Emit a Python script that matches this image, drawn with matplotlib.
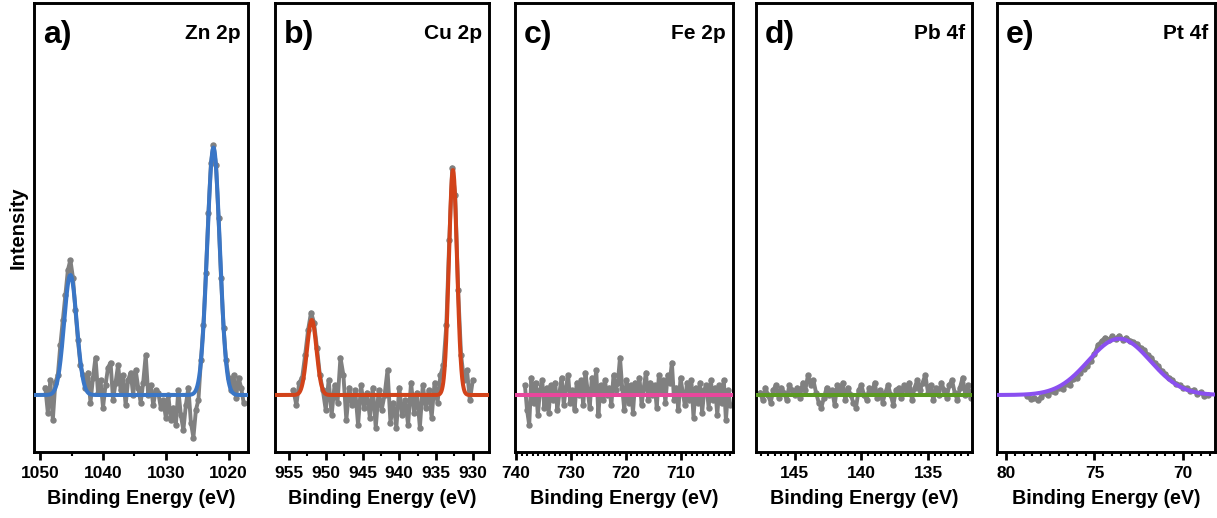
import numpy as np
import matplotlib
matplotlib.use("Agg")
import matplotlib.pyplot as plt
from matplotlib.ticker import MultipleLocator

plt.rcParams['font.family'] = ['Liberation Sans', 'DejaVu Sans']
plt.rcParams['font.weight'] = 'bold'

# ---- panel layout data -------------------------------------------------
panel_tags = ['a)', 'b)', 'c)', 'd)', 'e)']
core_levels = ['Zn 2p', 'Cu 2p', 'Fe 2p', 'Pb 4f', 'Pt 4f']
fit_colors = ['#3a76c6', '#d2431a', '#e8479c', '#5b9a22', '#8a4ff0']
x_limits = [(1051.0, 1016.9), (956.9, 927.8), (740.2, 700.5), (147.9, 131.7), (80.5, 68.2)]
major_steps = [10, 5, 10, 5, 5]
minor_steps = [5, 2.5, 1, 0.5, 0.5]

# ---- measured spectra (normalised intensity, background = 0) -----------
zn_energy = (1049.2, 1017.6)
zn_counts = [0.03, -0.07, 0.06, -0.10, 0.05, 0.08, 0.20, 0.30, 0.40, 0.50,
             0.54, 0.47, 0.34, 0.22, 0.12, 0.08, 0.03, 0.09, -0.03, 0.07,
             0.15, 0.01, 0.06, -0.05, 0.04, 0.11, 0.13, -0.02, 0.05, 0.12,
             0.02, 0.08, -0.04, 0.06, 0.09, 0.00, 0.10, 0.03, -0.03, 0.05,
             0.16, 0.00, 0.04, -0.04, 0.02, 0.01, -0.05, -0.02, -0.09, 0.00,
             -0.10, -0.05, -0.12, 0.02, -0.08, -0.14, -0.04, 0.03, -0.11, -0.17,
             -0.06, -0.02, 0.14, 0.28, 0.49, 0.73, 0.93, 1.00, 0.92, 0.71,
             0.47, 0.27, 0.14, 0.07, 0.02, 0.08, -0.01, 0.07, 0.03, -0.03]

cu_energy = (954.4, 930.0)
cu_counts = [0.02, -0.04, 0.05, 0.07, 0.16, 0.26, 0.33, 0.29, 0.19, 0.08, 0.02,
             -0.06, 0.06, -0.08, 0.04, -0.03, 0.15, 0.08, -0.10, 0.03, -0.04,
             0.02, -0.12, 0.04, -0.05, 0.01, -0.09, 0.03, -0.13, 0.02, -0.06,
             0.00, 0.10, -0.11, -0.03, -0.13, 0.03, -0.08, -0.02, -0.12, 0.05,
             -0.07, 0.01, -0.13, 0.04, -0.05, 0.02, -0.09, 0.05, -0.03, 0.08,
             0.12, 0.28, 0.62, 0.91, 0.80, 0.42, 0.16, 0.06, 0.10, -0.02, 0.06]

fe_energy = (738.4, 701.0)
fe_counts = [0.04, -0.06, -0.12, 0.07, -0.03, 0.05, -0.08, 0.02, 0.06, -0.05,
             0.03, -0.07, 0.04, -0.02, 0.05, -0.06, 0.01, 0.07, -0.04, 0.03,
             0.08, -0.03, 0.02, -0.06, 0.05, 0.00, 0.06, -0.04, 0.09, 0.02,
             -0.05, 0.07, 0.01, 0.10, -0.08, 0.04, -0.02, 0.06, 0.00, 0.03,
             -0.04, 0.08, 0.02, 0.05, 0.15, 0.03, -0.06, 0.06, -0.03, 0.04,
             -0.07, 0.05, 0.01, 0.07, -0.04, 0.03, 0.09, -0.02, 0.05, 0.00,
             0.04, -0.05, 0.08, 0.02, 0.06, -0.03, 0.08, 0.05, 0.13, -0.02,
             0.03, -0.06, 0.07, 0.01, -0.04, 0.05, -0.02, 0.06, -0.09, 0.03,
             -0.03, 0.05, -0.07, 0.02, 0.04, -0.05, 0.06, -0.02, 0.03, -0.08,
             0.04, -0.03, 0.06, -0.10, 0.02, -0.04]

pb_energy = (147.6, 131.8)
pb_counts = [0.01, -0.02, 0.03, 0.00, -0.03, 0.02, 0.04, -0.01, 0.03, 0.01,
             -0.02, 0.04, 0.02, 0.00, 0.03, -0.01, 0.05, 0.02, 0.08, 0.04,
             0.06, 0.01, -0.03, -0.05, -0.01, 0.03, 0.00, 0.02, -0.04, 0.04,
             0.01, 0.05, -0.02, 0.03, 0.00, -0.03, -0.05, 0.02, 0.04, 0.00,
             -0.02, 0.03, 0.01, 0.05, -0.01, 0.02, -0.03, 0.01, 0.04, 0.00,
             -0.04, 0.02, 0.03, -0.01, 0.04, 0.01, 0.05, -0.02, 0.03, 0.06,
             0.02, 0.05, 0.08, 0.01, 0.04, -0.02, 0.03, 0.00, 0.05, 0.02,
             -0.01, 0.04, 0.06, 0.01, -0.02, 0.03, 0.07, 0.00, 0.04, -0.01]

pt_energy = (78.8, 68.6)
pt_counts = [-0.005, -0.015, -0.010, -0.020, -0.008, 0.010, 0.002, 0.018, 0.012, 0.030,
             0.025, 0.045, 0.040, 0.065, 0.070, 0.090, 0.105, 0.115, 0.135, 0.165,
             0.200, 0.215, 0.230, 0.222, 0.235, 0.226, 0.238, 0.222, 0.230, 0.218,
             0.212, 0.205, 0.190, 0.180, 0.162, 0.150, 0.128, 0.118, 0.095, 0.085,
             0.070, 0.060, 0.045, 0.040, 0.030, 0.028, 0.015, 0.022, 0.005, 0.012,
             -0.005, 0.002]

# ---- fitted Gaussian components: centre (eV), height, sigma (eV) --------
zn_fit_center = [1045.2, 1022.4]
zn_fit_height = [0.48, 0.99]
zn_fit_sigma = [1.0, 1.0]
cu_fit_center = [951.9, 932.7]
cu_fit_height = [0.30, 0.90]
cu_fit_sigma = [0.65, 0.55]
fe_fit_center, fe_fit_height, fe_fit_sigma = [], [], []
pb_fit_center, pb_fit_height, pb_fit_sigma = [], [], []
pt_fit_center = [73.6]
pt_fit_height = [0.225]
pt_fit_sigma = [1.75]

spectra = [
    (zn_energy, zn_counts, zn_fit_center, zn_fit_height, zn_fit_sigma),
    (cu_energy, cu_counts, cu_fit_center, cu_fit_height, cu_fit_sigma),
    (fe_energy, fe_counts, fe_fit_center, fe_fit_height, fe_fit_sigma),
    (pb_energy, pb_counts, pb_fit_center, pb_fit_height, pb_fit_sigma),
    (pt_energy, pt_counts, pt_fit_center, pt_fit_height, pt_fit_sigma),
]


def fit_envelope(e, centers, heights, sigmas):
    total = np.zeros_like(e)
    for c, h, s in zip(centers, heights, sigmas):
        total += h * np.exp(-0.5 * ((e - c) / s) ** 2)
    return total


W, H = 1217, 518
fig = plt.figure(figsize=(W / 100, H / 100), dpi=100)

# axes boxes in pixels: left, right
boxes = [(34, 248), (275, 489), (515, 733), (756, 972), (997, 1215)]
top_px, bottom_px = 3, 452

for i, ((l, r), (erange, counts, fc, fh, fs)) in enumerate(zip(boxes, spectra)):
    ax = fig.add_axes([l / W, 1 - bottom_px / H, (r - l) / W, (bottom_px - top_px) / H])
    energy = np.linspace(erange[0], erange[1], len(counts))
    ax.plot(energy, counts, color='#808080', lw=2.8, marker='o', ms=3.6,
            mec='#808080', mfc='#808080', zorder=2)
    xf = np.linspace(x_limits[i][0], x_limits[i][1], 800)
    ax.plot(xf, fit_envelope(xf, fc, fh, fs), color=fit_colors[i], lw=2.9,
            solid_capstyle='round', zorder=3)

    ax.set_xlim(*x_limits[i])
    ax.set_ylim(-0.228, 1.568)
    ax.xaxis.set_major_locator(MultipleLocator(major_steps[i]))
    ax.xaxis.set_minor_locator(MultipleLocator(minor_steps[i]))
    ax.tick_params(axis='x', which='major', direction='out', length=6, width=2,
                   labelsize=12.5, pad=4)
    ax.tick_params(axis='x', which='minor', direction='out', length=3, width=1.5)
    ax.set_yticks([])
    for sp in ax.spines.values():
        sp.set_linewidth(2.1)
    for lab in ax.get_xticklabels():
        lab.set_fontweight('bold')

    ax.set_xlabel('Binding Energy (eV)', fontsize=14.2, fontweight='bold')
    ax.xaxis.set_label_coords(0.5, -0.082)

    ax.text(0.042, 0.962, panel_tags[i], transform=ax.transAxes, ha='left', va='top',
            fontsize=23, fontweight='bold')
    ax.text(0.967, 0.953, core_levels[i], transform=ax.transAxes, ha='right', va='top',
            fontsize=15, fontweight='bold')

fig.text(18 / W, 1 - 228 / H, 'Intensity', rotation=90, ha='center', va='center',
         fontsize=14.5, fontweight='bold')

fig.savefig('out.png', dpi=100)
